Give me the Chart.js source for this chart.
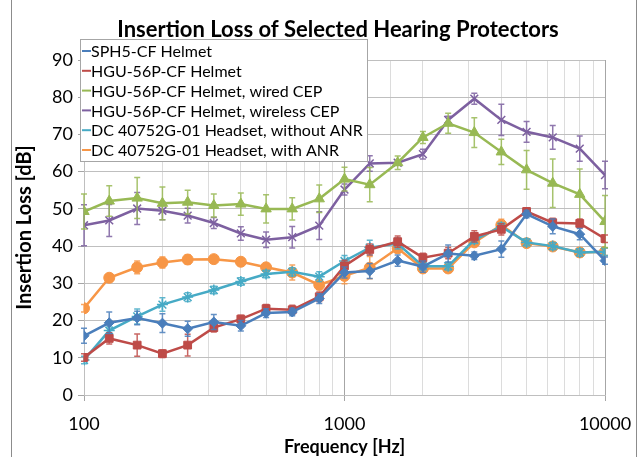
<!DOCTYPE html>
<html>
<head>
<meta charset="utf-8">
<script src="https://cdn.jsdelivr.net/npm/chart.js@4.4.1/dist/chart.umd.min.js"></script>
<style>
  html, body { margin: 0; padding: 0; background: #fff; }
  #wrap { position: relative; width: 639px; height: 457px; }
</style>
</head>
<body>
<div id="wrap"><canvas id="ilChart" width="639" height="457"></canvas></div>
<script>
// Third-octave band centre frequencies [Hz]
const freqs = [100, 125, 160, 200, 250, 315, 400, 500, 630, 800, 1000, 1250, 1600, 2000, 2500, 3150, 4000, 5000, 6300, 8000, 10000];

const seriesNames = [
  'SPH5-CF Helmet',
  'HGU-56P-CF Helmet',
  'HGU-56P-CF Helmet, wired CEP',
  'HGU-56P-CF Helmet, wireless CEP',
  'DC 40752G-01 Headset, without ANR',
  'DC 40752G-01 Headset, with ANR'
];

// insertion loss [dB] and +/- error
const sph5     = [15.9, 19.4, 20.7, 19.3, 17.8, 19.6, 18.6, 22.0, 22.3, 25.9, 32.9, 33.3, 36.1, 34.5, 38.0, 37.4, 39.2, 48.6, 45.3, 43.2, 36.1];
const sph5Err  = [2.0, 2.9, 1.8, 2.5, 2.0, 2.0, 1.4, 1.2, 1.0, 1.3, 1.5, 2.0, 1.5, 1.5, 2.3, 1.0, 2.2, 1.0, 2.0, 1.5, 1.0];

const hgu      = [10.1, 15.2, 13.4, 11.1, 13.4, 18.1, 20.4, 23.2, 22.9, 26.4, 34.7, 39.1, 41.2, 36.9, 38.1, 42.6, 44.5, 49.3, 46.3, 46.1, 42.0];
const hguErr   = [1.0, 1.5, 3.0, 1.0, 2.9, 1.2, 1.0, 1.1, 1.2, 1.3, 1.5, 1.5, 1.5, 1.2, 1.5, 1.5, 1.5, 1.0, 1.2, 1.2, 1.0];

const wired    = [49.3, 52.1, 52.9, 51.5, 51.8, 50.9, 51.3, 50.0, 50.0, 52.7, 58.0, 56.5, 62.4, 69.2, 73.0, 70.5, 65.3, 60.5, 56.9, 53.9, 46.6];
const wiredErr = [4.7, 4.1, 5.5, 4.4, 3.2, 3.1, 3.0, 3.8, 3.0, 3.7, 3.2, 4.6, 1.8, 1.6, 2.7, 4.0, 3.4, 5.2, 6.5, 6.8, 7.0];

const wireless    = [45.6, 46.9, 50.1, 49.5, 48.2, 46.2, 43.4, 41.7, 42.4, 45.5, 55.2, 62.2, 62.4, 64.7, 73.9, 79.6, 73.9, 70.7, 69.2, 66.2, 59.1];
const wirelessErr = [5.5, 4.3, 4.3, 2.4, 2.0, 1.5, 1.8, 2.1, 2.9, 3.7, 1.5, 2.1, 0.6, 1.3, 1.0, 1.5, 4.2, 2.8, 3.2, 3.4, 3.7];

const noAnr    = [9.4, 17.3, 21.1, 24.3, 26.3, 28.2, 30.5, 32.5, 33.1, 31.8, 36.0, 39.6, 40.7, 34.6, 34.6, 41.7, 45.2, 41.0, 40.0, 38.3, 38.5];
const noAnrErr = [1.0, 1.0, 2.0, 1.8, 1.2, 1.0, 1.0, 1.0, 1.1, 1.3, 1.5, 2.0, 1.5, 1.0, 1.0, 1.0, 1.0, 1.0, 1.0, 1.0, 1.0];

const withAnr    = [23.3, 31.5, 34.3, 35.6, 36.4, 36.5, 35.8, 34.3, 32.9, 29.6, 32.0, 34.2, 39.4, 34.0, 34.0, 41.0, 45.7, 40.8, 39.9, 38.3, 38.5];
const withAnrErr = [1.0, 0.8, 1.7, 1.5, 1.3, 0.9, 0.6, 0.8, 2.0, 1.3, 2.1, 3.0, 1.2, 1.0, 1.0, 1.0, 1.5, 1.0, 1.0, 1.2, 1.0];

const yTicks = [0, 10, 20, 30, 40, 50, 60, 70, 80, 90];
const xMajor = [100, 1000, 10000];

const TITLE = 'Insertion Loss of Selected Hearing Protectors';
const COLORS  = ['#4a7ebb', '#be4b48', '#98b954', '#7d60a0', '#46aac5', '#f79646'];
const MARKERS = ['rectRot', 'rect', 'triangle', 'crossRot', 'star', 'circle'];
const RADII   = [5, 5.5, 6, 5.5, 5.5, 5.5];
const FONT = 'Lato, "Open Sans", sans-serif';

const values = [sph5, hgu, wired, wireless, noAnr, withAnr];
const errors = [sph5Err, hguErr, wiredErr, wirelessErr, noAnrErr, withAnrErr];

// ── Error bars ───────────────────────────────────────────────────────────────
const errorBars = {
  id: 'errorBars',
  afterDatasetDraw(chart, args) {
    const i = args.index;
    const err = errors[i];
    const { ctx, scales: { x, y } } = chart;
    ctx.save();
    ctx.strokeStyle = COLORS[i];
    ctx.globalAlpha = 0.85;
    ctx.lineWidth = 1.5;
    freqs.forEach((f, k) => {
      const px = x.getPixelForValue(f);
      const lo = y.getPixelForValue(values[i][k] - err[k]);
      const hi = y.getPixelForValue(values[i][k] + err[k]);
      ctx.beginPath();
      ctx.moveTo(px, lo); ctx.lineTo(px, hi);
      ctx.moveTo(px - 3, lo); ctx.lineTo(px + 3, lo);
      ctx.moveTo(px - 3, hi); ctx.lineTo(px + 3, hi);
      ctx.stroke();
    });
    ctx.restore();
  }
};

// ── Title, legend box inside plot, outer frame ───────────────────────────────
const decorations = {
  id: 'decorations',
  afterDraw(chart) {
    const { ctx } = chart;
    ctx.save();
    // outer chart frame
    ctx.strokeStyle = '#8c8c8c';
    ctx.lineWidth = 1;
    ctx.beginPath();
    ctx.moveTo(11.5, 0); ctx.lineTo(11.5, 457);
    ctx.moveTo(636.5, 0); ctx.lineTo(636.5, 457);
    ctx.stroke();

    // title
    ctx.fillStyle = '#000';
    ctx.font = 'bold 22px ' + FONT;
    ctx.textAlign = 'center';
    ctx.textBaseline = 'middle';
    ctx.fillText(TITLE, 338, 30);

    // legend
    const bx = 80, by = 39, bw = 287, bh = 122;
    ctx.fillStyle = '#fff';
    ctx.fillRect(bx, by, bw, bh);
    ctx.strokeStyle = '#a6a6a6';
    ctx.strokeRect(bx + 0.5, by + 0.5, bw, bh);

    ctx.font = '16px ' + FONT;
    ctx.textAlign = 'left';
    chart.data.datasets.forEach((ds, i) => {
      const cy = 51 + i * 19.8;
      ctx.strokeStyle = COLORS[i];
      ctx.lineWidth = 2;
      ctx.beginPath();
      ctx.moveTo(82, cy); ctx.lineTo(91, cy);
      ctx.stroke();
      ctx.fillStyle = '#000';
      ctx.fillText(ds.label, 91, cy + 1);
    });
    ctx.restore();
  }
};

const datasets = seriesNames.map((name, i) => ({
  label: name,
  data: freqs.map((f, k) => ({ x: f, y: values[i][k] })),
  borderColor: COLORS[i],
  backgroundColor: COLORS[i],
  borderWidth: 2.5,
  pointStyle: MARKERS[i],
  pointRadius: RADII[i],
  pointBorderWidth: MARKERS[i] === 'crossRot' || MARKERS[i] === 'star' ? 1.5 : 1,
  tension: 0
}));

new Chart(document.getElementById('ilChart'), {
  type: 'line',
  data: { datasets },
  plugins: [errorBars, decorations],
  options: {
    responsive: false,
    animation: false,
    layout: { padding: { left: 0, right: 34, top: 60, bottom: 0 } },
    plugins: {
      legend: { display: false },
      tooltip: { enabled: false },
      title: { display: false }
    },
    scales: {
      x: {
        type: 'logarithmic',
        min: 100,
        max: 10000,
        afterFit: s => { s.height = 62; s.paddingLeft = 0; s.paddingRight = 0; },
        border: { color: '#bfbfbf' },
        grid: {
          color: c => xMajor.includes(c.tick && c.tick.value) ? '#a6a6a6' : '#dcdcdc',
          tickColor: c => xMajor.includes(c.tick && c.tick.value) ? '#a6a6a6' : 'rgba(0,0,0,0)',
          tickLength: 6
        },
        ticks: {
          autoSkip: false,
          maxRotation: 0,
          padding: 12,
          color: '#000',
          font: { family: FONT, size: 18 },
          callback: v => xMajor.includes(v) ? String(v) : ''
        },
        title: {
          display: true,
          text: 'Frequency [Hz]',
          color: '#000',
          font: { family: FONT, size: 18, weight: 'bold' },
          padding: { top: 0, bottom: -1 }
        }
      },
      y: {
        min: 0,
        max: 90,
        afterFit: s => { s.width = 84; },
        afterBuildTicks: s => { s.ticks = yTicks.map(v => ({ value: v })); },
        border: { color: '#bfbfbf' },
        grid: { color: '#bfbfbf', tickColor: '#a6a6a6', tickLength: 6 },
        ticks: {
          padding: 5,
          color: '#000',
          font: { family: FONT, size: 18 }
        },
        title: {
          display: true,
          text: 'Insertion Loss [dB]',
          color: '#000',
          font: { family: FONT, size: 20, weight: 'bold' },
          padding: { top: 13, bottom: 0 }
        }
      }
    }
  }
});
</script>
</body>
</html>
